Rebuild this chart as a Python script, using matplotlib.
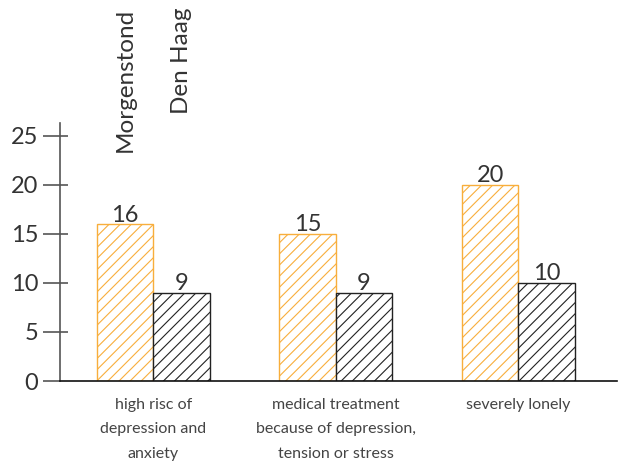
import matplotlib
matplotlib.use("Agg")
import matplotlib.pyplot as plt
import matplotlib.transforms as mtransforms
import numpy as np

plt.rcParams['font.family'] = ['Lato', 'DejaVu Sans']
plt.rcParams['hatch.linewidth'] = 0.8

categories = ["high risc of\ndepression and\nanxiety",
              "medical treatment\nbecause of depression,\ntension or stress",
              "severely lonely"]
series_names = ["Morgenstond", "Den Haag"]
morgenstond = [16, 15, 20]
den_haag = [9, 9, 10]
yticks = [0, 5, 10, 15, 20, 25]

orange = '#F8AE3C'
black = '#222222'
text_col = '#333333'

fig = plt.figure(figsize=(6.24, 4.61), dpi=100)
ax = fig.add_axes([60/624, 80/461, 557/624, 258/461])

x = np.arange(len(categories))
w = 0.31
bars1 = ax.bar(x - w/2, morgenstond, w, facecolor='white', edgecolor=orange,
               hatch='///', linewidth=1.0)
bars2 = ax.bar(x + w/2, den_haag, w, facecolor='white', edgecolor=black,
               hatch='///', linewidth=1.0)

for bars, vals in ((bars1, morgenstond), (bars2, den_haag)):
    for b, v in zip(bars, vals):
        ax.text(b.get_x() + b.get_width()/2, v - 0.15, str(v), ha='center',
                va='bottom', fontsize=17, color=text_col)

ax.set_xlim(-0.51, 2.54)
ax.set_ylim(0, 26.3)

ax.spines['top'].set_visible(False)
ax.spines['right'].set_visible(False)
ax.spines['left'].set_color('#555555')
ax.spines['left'].set_linewidth(1.2)
ax.spines['bottom'].set_color('#111111')
ax.spines['bottom'].set_linewidth(1.2)

ax.set_yticks(yticks)
ax.set_yticklabels([str(t) for t in yticks])
ax.yaxis.remove_overlapping_locs = False
ax.set_yticks(yticks[1:], minor=True)
ax.tick_params(axis='y', which='major', direction='out', length=12.5, width=1.2,
               color='#555555', labelsize=17, labelcolor=text_col, pad=3)
ax.tick_params(axis='y', which='minor', direction='in', length=6, width=1.2,
               color='#555555')

ax.set_xticks(x)
ax.set_xticklabels(categories, fontsize=11.5, color='#444444', linespacing=1.95)
ax.tick_params(axis='x', length=0, pad=12)

trans = mtransforms.blended_transform_factory(ax.transData, fig.transFigure)
for name, xpos in zip(series_names, [x[0] - w/2, x[0] + w/2]):
    ax.text(xpos, 1 - 8/461, name, rotation=90, ha='center', va='top',
            fontsize=17.5, color=text_col, transform=trans)

fig.savefig('out.png', dpi=100)
